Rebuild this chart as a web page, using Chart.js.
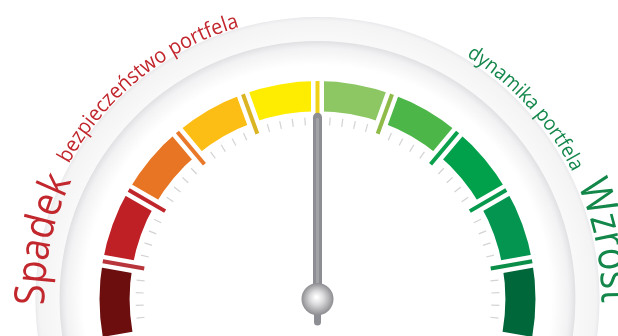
<!DOCTYPE html>
<html>
<head>
<meta charset="utf-8">
<script src="https://cdn.jsdelivr.net/npm/chart.js@4.4.0/dist/chart.umd.min.js"></script>
<style>
  body { margin: 0; background: #fff; }
  canvas { display: block; }
</style>
</head>
<body>
<canvas id="gauge" width="618" height="336"></canvas>
<script>
// Gauge data: ten equal zones from "Spadek" to "Wzrost"
const zones = ['1', '2', '3', '4', '5', '6', '7', '8', '9', '10'];
const zoneSizes = [1, 1, 1, 1, 1, 1, 1, 1, 1, 1];
const zoneColors = ['#6c0d0e', '#be2026', '#e87523', '#fcbe14', '#feed00',
                    '#8cc763', '#4cb748', '#01a14b', '#049551', '#00673a'];
// colour of the thin line after each zone
const dividerColors = ['#b8353b', '#c0272d', '#e9782a', '#dbb424', '#f0d21b',
                       '#8fbb48', '#0ba04b', '#079a4e', '#0b8e48'];
const minorTicksPerZone = 4;
// needle position, in zones from the left end
const needleValue = 5;

// labels round the dial: [text, size, radius, from angle, to angle, colour]
const dialLabels = [
  ['Spadek', 42, 273, 181.3, 154.3, '#c1272d'],
  ['bezpieczeństwo portfela', 21, 283, 151.5, 106, '#c1272d'],
  ['dynamika portfela', 20, 285, 58.5, 26.5, '#13864a'],
  ['Wzrost', 43, 284, 23.7, -0.8, '#13864a']
];

function gaugeGeometry(chart) {
  const arcs = chart.getDatasetMeta(0).data;
  const first = arcs[0];
  return {
    arcs: arcs,
    x: first.x,
    y: first.y,
    outer: first.outerRadius,
    inner: first.innerRadius,
    start: first.startAngle,
    end: arcs[arcs.length - 1].endAngle
  };
}

function radial(ctx, g, angle, r1, r2) {
  ctx.beginPath();
  ctx.moveTo(g.x + r1 * Math.cos(angle), g.y + r1 * Math.sin(angle));
  ctx.lineTo(g.x + r2 * Math.cos(angle), g.y + r2 * Math.sin(angle));
  ctx.stroke();
}

// draws text clockwise along a circle, letter tops pointing outwards
function textOnArc(ctx, g, label) {
  const [text, size, r, from, to, color] = label;
  ctx.save();
  ctx.font = size + 'px "Open Sans"';
  ctx.fillStyle = color;
  ctx.textAlign = 'center';
  ctx.textBaseline = 'alphabetic';
  const a0 = -from * Math.PI / 180;
  const a1 = -to * Math.PI / 180;
  let total = 0;
  for (const ch of text) total += ctx.measureText(ch).width;
  const sx = (a1 - a0) * r / total;
  let a = a0;
  for (const ch of text) {
    const w = ctx.measureText(ch).width * sx;
    const mid = a + w / 2 / r;
    ctx.save();
    ctx.translate(g.x + r * Math.cos(mid), g.y + r * Math.sin(mid));
    ctx.rotate(mid + Math.PI / 2);
    ctx.scale(sx, 1);
    ctx.fillText(ch, 0, 0);
    ctx.restore();
    a += w / r;
  }
  ctx.restore();
}

const dialPlugin = {
  id: 'dial',
  beforeDatasetsDraw(chart) {
    const ctx = chart.ctx;
    const g = gaugeGeometry(chart);
    ctx.save();
    // outer bezel ring
    const ring = ctx.createRadialGradient(g.x, g.y, 257, g.x, g.y, 282);
    ring.addColorStop(0, '#f9f9fa');
    ring.addColorStop(0.85, '#f4f4f5');
    ring.addColorStop(0.96, '#ededef');
    ring.addColorStop(1, '#e6e6e8');
    ctx.fillStyle = ring;
    ctx.beginPath();
    ctx.arc(g.x, g.y, 282, 0, Math.PI * 2);
    ctx.arc(g.x, g.y, 258, 0, Math.PI * 2, true);
    ctx.fill();
    // soft shadow inside the bezel
    const shade = ctx.createRadialGradient(g.x, g.y, 234, g.x, g.y, 258);
    shade.addColorStop(0, 'rgba(230,230,233,0)');
    shade.addColorStop(0.7, 'rgba(230,230,233,0.5)');
    shade.addColorStop(1, 'rgba(224,224,227,1)');
    ctx.fillStyle = shade;
    ctx.beginPath();
    ctx.arc(g.x, g.y, 258, 0, Math.PI * 2);
    ctx.arc(g.x, g.y, 234, 0, Math.PI * 2, true);
    ctx.fill();
    ctx.restore();
    dialLabels.forEach(l => textOnArc(ctx, g, l));
  },
  afterDatasetsDraw(chart) {
    const ctx = chart.ctx;
    const g = gaugeGeometry(chart);
    ctx.save();
    // white gaps and coloured dividers between zones
    for (let i = 0; i < g.arcs.length - 1; i++) {
      const a = g.arcs[i].endAngle;
      ctx.strokeStyle = '#ffffff';
      ctx.lineWidth = 13;
      radial(ctx, g, a, g.inner - 2, g.outer + 2);
      ctx.strokeStyle = dividerColors[i];
      ctx.lineWidth = 4;
      radial(ctx, g, a, g.inner - 12, g.outer);
    }
    // minor ticks
    ctx.strokeStyle = '#d3d3d5';
    ctx.lineWidth = 1.2;
    g.arcs.forEach(arc => {
      const step = (arc.endAngle - arc.startAngle) / (minorTicksPerZone + 1);
      for (let k = 1; k <= minorTicksPerZone; k++) {
        radial(ctx, g, arc.startAngle + k * step, g.inner - 14, g.inner - 6);
      }
    });
    // needle
    const span = g.end - g.start;
    const na = g.start + span * needleValue / zones.length;
    ctx.lineCap = 'round';
    ctx.strokeStyle = '#8d8e93';
    ctx.lineWidth = 7;
    radial(ctx, g, na, -23, 0);
    ctx.lineWidth = 9;
    radial(ctx, g, na, 0, g.inner - 6);
    ctx.strokeStyle = '#a2a3a7';
    ctx.lineWidth = 3;
    radial(ctx, g, na, 0, g.inner - 8);
    // hub
    const hub = ctx.createRadialGradient(g.x - 1, g.y - 2, 1, g.x, g.y, 16);
    hub.addColorStop(0, '#ffffff');
    hub.addColorStop(0.4, '#dadadc');
    hub.addColorStop(1, '#8e8e92');
    ctx.fillStyle = hub;
    ctx.beginPath();
    ctx.arc(g.x, g.y, 16, 0, Math.PI * 2);
    ctx.fill();
    ctx.restore();
  }
};

new Chart(document.getElementById('gauge'), {
  type: 'doughnut',
  data: {
    labels: zones,
    datasets: [{
      data: zoneSizes,
      backgroundColor: zoneColors,
      borderWidth: 0,
      clip: false
    }]
  },
  options: {
    responsive: false,
    animation: false,
    rotation: -100,
    circumference: 200,
    radius: 218,
    cutout: '86.2%',
    layout: { padding: { left: 17, right: 0, top: 82, bottom: 0 } },
    plugins: {
      legend: { display: false },
      tooltip: { enabled: false }
    }
  },
  plugins: [dialPlugin]
});
</script>
</body>
</html>
